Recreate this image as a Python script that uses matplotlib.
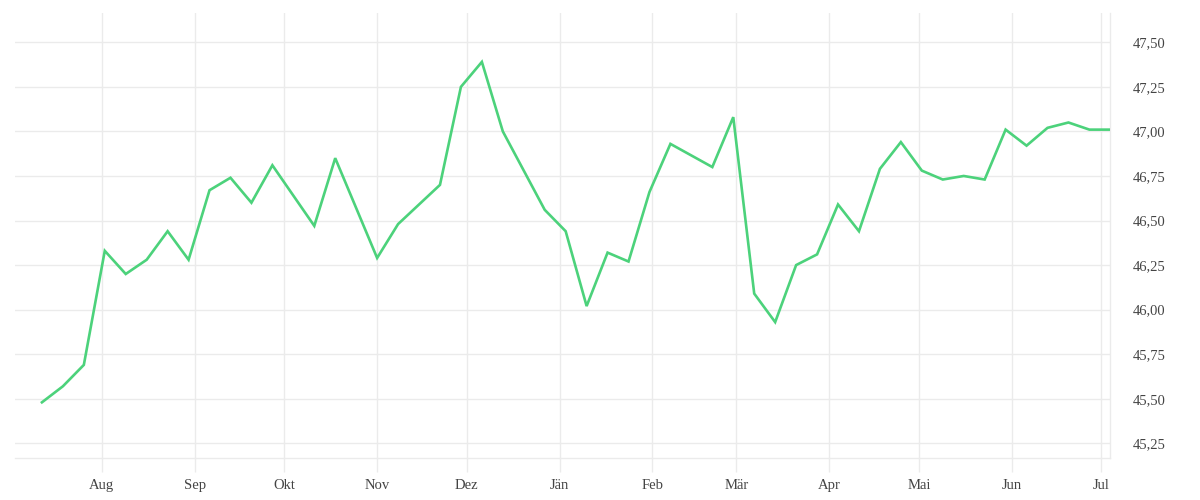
import matplotlib
matplotlib.use("Agg")
import matplotlib.pyplot as plt
import matplotlib.dates as mdates
import pandas as pd
from matplotlib.ticker import FixedLocator, FuncFormatter

# weekly readings (Fridays), Jul 2024 - Jul 2025
dates = [
    "2024-07-12", "2024-07-19", "2024-07-26", "2024-08-02", "2024-08-09",
    "2024-08-16", "2024-08-23", "2024-08-30", "2024-09-06", "2024-09-13",
    "2024-09-20", "2024-09-27", "2024-10-11", "2024-10-18", "2024-11-01",
    "2024-11-08", "2024-11-15", "2024-11-22", "2024-11-29", "2024-12-06",
    "2024-12-13", "2024-12-27", "2025-01-03", "2025-01-10", "2025-01-17",
    "2025-01-24", "2025-01-31", "2025-02-07", "2025-02-21", "2025-02-28",
    "2025-03-07", "2025-03-14", "2025-03-21", "2025-03-28", "2025-04-04",
    "2025-04-11", "2025-04-18", "2025-04-25", "2025-05-02", "2025-05-09",
    "2025-05-16", "2025-05-23", "2025-05-30", "2025-06-06", "2025-06-13",
    "2025-06-20", "2025-06-27", "2025-07-04",
]
values = [
    45.48, 45.57, 45.69, 46.33, 46.20,
    46.28, 46.44, 46.28, 46.67, 46.74,
    46.60, 46.81, 46.47, 46.85, 46.29,
    46.48, 46.59, 46.70, 47.25, 47.39,
    47.00, 46.56, 46.44, 46.02, 46.32,
    46.27, 46.66, 46.93, 46.80, 47.08,
    46.09, 45.93, 46.25, 46.31, 46.59,
    46.44, 46.79, 46.94, 46.78, 46.73,
    46.75, 46.73, 47.01, 46.92, 47.02,
    47.05, 47.01, 47.01,
]
month_ticks = [
    "2024-08-01", "2024-09-01", "2024-10-01", "2024-11-01", "2024-12-01",
    "2025-01-01", "2025-02-01", "2025-03-01", "2025-04-01", "2025-05-01",
    "2025-06-01", "2025-07-01",
]
month_labels = ["Aug", "Sep", "Okt", "Nov", "Dez", "Jän", "Feb", "Mär",
                "Apr", "Mai", "Jun", "Jul"]
y_ticks = [45.25, 45.50, 45.75, 46.00, 46.25, 46.50, 46.75, 47.00, 47.25, 47.50]

LINE = "#4cd27b"
GRID = "#ebebeb"
TEXT = "#444444"

plt.rcParams["font.family"] = ["Liberation Serif", "DejaVu Serif"]

fig = plt.figure(figsize=(12, 5), dpi=100)
ax = fig.add_axes([0.0125, 0.0834, 0.9128, 0.8912])

x = pd.to_datetime(dates)
ax.plot(x, values, color=LINE, linewidth=1.9, solid_joinstyle="miter", zorder=3)

ax.set_xlim(pd.Timestamp("2024-07-03"), pd.Timestamp("2025-07-04"))
ax.set_ylim(45.166, 47.666)

ax.xaxis.set_major_locator(FixedLocator(mdates.date2num(pd.to_datetime(month_ticks))))
ax.set_xticklabels(month_labels)
ax.yaxis.set_major_locator(FixedLocator(y_ticks))
ax.yaxis.set_major_formatter(FuncFormatter(lambda v, _: f"{v:.2f}".replace(".", ",")))
ax.yaxis.tick_right()

ax.grid(True, color=GRID, linewidth=1, zorder=0)
ax.tick_params(axis="x", length=10, width=1, color=GRID, pad=5,
               labelsize=10.5, labelcolor=TEXT)
ax.tick_params(axis="y", length=0, pad=16, labelsize=10.5, labelcolor=TEXT)

for side in ("top", "left"):
    ax.spines[side].set_visible(False)
for side in ("right", "bottom"):
    ax.spines[side].set_color(GRID)
    ax.spines[side].set_linewidth(1)

fig.savefig("out.png", dpi=100)
